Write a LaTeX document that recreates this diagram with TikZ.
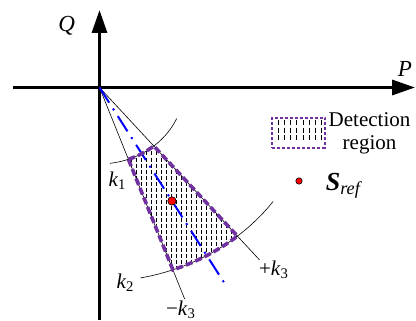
\documentclass[tikz,border=0pt]{standalone}
\usepackage{fontspec}
\setmainfont{Liberation Serif}
\usetikzlibrary{arrows.meta}
\definecolor{regionpurple}{RGB}{112,48,160}

\begin{document}
\begin{tikzpicture}[x=0.5pt,y=0.5pt,line width=0.3pt,>={Triangle[length=11.5pt,width=7.5pt]},
    lbl/.style={inner sep=0pt,font=\fontsize{10.5}{11.5}\selectfont},
    hatch/.style={line width=0.5pt,dash pattern=on 2pt off 1pt},
    border/.style={regionpurple,line width=1.8pt,dash pattern=on 3.5pt off 1.6pt}]
  \useasboundingbox (-99.5,-232.5) rectangle (316.5,87.5);
  \coordinate (O) at (0,0);
  % ejes P-Q
  \draw[->,line width=1.6pt] (-86,0) -- (315.5,0);
  \draw[->,line width=1.6pt] (O) ++(0,-232.5) -- (0,77.5);
  \node[lbl,font=\fontsize{11.5}{13}\selectfont] (Q) at (-32.8,61.5) {\textit{Q}};
  \node[lbl,font=\fontsize{11.5}{13}\selectfont] (P) at (305.5,18.5) {\textit{P}};
  \begin{scope}[xscale=1.106]
    % region de deteccion: rayado vertical
    \begin{scope}
      \clip (-70:76.4) arc[start angle=-70,end angle=-50,radius=76.4]
        -- (-50:194) arc[start angle=-50,end angle=-70,radius=194] -- cycle;
      \foreach \x in {20,24.5,...,130} \draw[hatch] (\x,-40) -- (\x,-200);
    \end{scope}
    % limites k1, k2 (arcos) y +-k3 (rectas)
    \draw (-83:76.4) arc[start angle=-83,end angle=-24,radius=76.4];
    \draw (-79:194) arc[start angle=-79,end angle=-36,radius=194];
    \foreach \a in {-50,-70} \draw (O) -- (\a:225);
    \draw[blue,line width=1pt,dash pattern=on 9pt off 3.5pt on 1pt off 3.5pt] (O) -- (-60:230);
    \draw[border] (-70:76.4) arc[start angle=-70,end angle=-50,radius=76.4]
      -- (-50:194) arc[start angle=-50,end angle=-70,radius=194] -- cycle;
    \coordinate (S) at (-60:131);
  \end{scope}
  \fill[red,draw=black,line width=0.3pt] (S) circle (2.1pt);
  \node[lbl] (k1) at (18,-93.5) {\textit{k}\textsubscript{1}};
  \node[lbl] (k2) at (26,-195.5) {\textit{k}\textsubscript{2}};
  \node[lbl] (k3p) at (174.5,-182.5) {+\textit{k}\textsubscript{3}};
  \node[lbl] (k3m) at (81.5,-222.5) {−\textit{k}\textsubscript{3}};
  % leyenda
  \node[draw=regionpurple,line width=1pt,dash pattern=on 1.5pt off 1pt,inner sep=0pt,
    minimum width=26.35pt,minimum height=15pt] (legbox) at (199.15,-45.2) {};
  \foreach \i in {0,...,7} \draw[line width=0.5pt,dash pattern=on 2.5pt off 1.35pt] ({178.8+6.2*\i},-32.5) -- ++(0,-22.5);
  \node[lbl,align=center] (legtext) at (270,-46.2) {Detection\\region};
  \coordinate (legdot) at (199.5,-93.5);
  \fill[red,draw=black,line width=0.3pt] (legdot) circle (1.6pt);
  \node[lbl,anchor=base west,font=\fontsize{13}{15}\selectfont] (Sref) at (226,-102.5)
    {\textbf{\textit{S}}\textsubscript{\textit{ref}}};
\end{tikzpicture}
\end{document}
